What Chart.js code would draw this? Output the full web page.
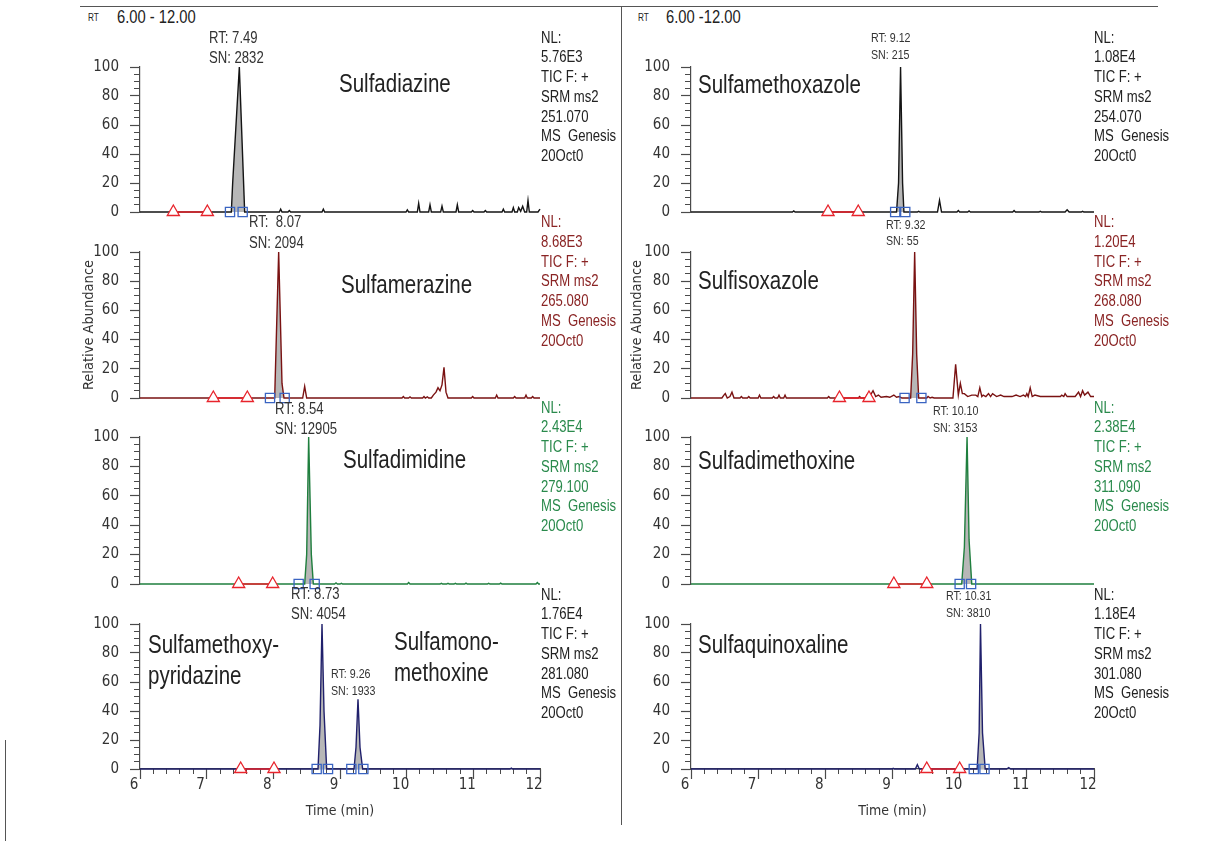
<!DOCTYPE html>
<html>
<head>
<meta charset="utf-8">
<title>SRM chromatograms of sulfonamides</title>
<script src="https://cdn.jsdelivr.net/npm/chart.js@4.4.1/dist/chart.umd.min.js"></script>
<style>
  html, body { margin: 0; padding: 0; background: #fff; }
  body {
    width: 1224px; height: 841px; position: relative; overflow: hidden;
    font-family: 'Liberation Sans', Arial, sans-serif;
    color: #222;
  }
  canvas { position: absolute; }
  /* Arial metrics squeezed to a narrow face, like the instrument font */
  .txt { position: absolute; white-space: pre; transform: scaleX(0.82); transform-origin: 0 0; }
  .rule { position: absolute; background: #555; }
</style>
</head>
<body>
<div class="rule" style="left:80px;top:6px;width:1078px;height:1px"></div>
<div class="rule" style="left:621px;top:6px;width:1px;height:819px"></div>
<div class="rule" style="left:5px;top:740px;width:1px;height:101px"></div>
<script>
'use strict';

// axis ticks shared by every trace
const timeTicks = [6, 7, 8, 9, 10, 11, 12];
const abundTicks = [0, 20, 40, 60, 80, 100];

// Sulfadiazine, SRM 251.070
const sdzTime = [6.00, 7.37, 7.39, 7.49, 7.57, 8.09, 8.11, 8.13, 8.22, 8.24, 8.26, 8.73, 8.75, 8.77,
  9.99, 10.01, 10.03, 10.16, 10.18, 10.20, 10.33, 10.35, 10.37, 10.51, 10.53, 10.55, 10.74, 10.76, 10.78,
  10.97, 10.99, 11.01, 11.16, 11.18, 11.20, 11.43, 11.45, 11.47, 11.58, 11.60, 11.62, 11.66, 11.68, 11.71,
  11.74, 11.77, 11.80, 11.82, 11.84, 11.97, 12.00];
const sdzAbund = [0, 0, 20, 100, 0, 0, 2, 0, 0, 1, 0, 0, 2, 0,
  0, 1.5, 0, 0, 6, 0, 0, 5, 0, 0, 4, 0, 0, 5, 0,
  0, 1, 0, 0, 1, 0, 0, 2, 0, 0, 3, 0, 0, 3, 0.5,
  4, 0, 0, 8, 0, 0, 2];
const sdzPeak = [[7.37, 7.57]];
const sdzNoise = [6.50, 7.01];
const sdzBounds = [7.35, 7.54];

// Sulfamerazine, SRM 265.080
const smrTime = [6.00, 8.02, 8.08, 8.13, 8.16, 8.44, 8.47, 8.50, 9.93, 9.95, 9.97, 10.03, 10.05, 10.07,
  10.24, 10.26, 10.28, 10.31, 10.33, 10.37, 10.40, 10.44, 10.47, 10.50, 10.53, 10.56, 10.59, 10.62,
  10.97, 10.99, 11.01, 11.33, 11.35, 11.37, 11.60, 11.62, 11.64, 11.77, 11.79, 11.81, 11.87, 11.89, 11.91, 12.00];
const smrAbund = [0, 0, 100, 10, 0, 0, 8, 0, 0, 1, 0, 0, 0.8, 0,
  0, 1, 0, 0.8, 0, 0, 2, 4, 7, 5, 9, 21, 4, 0,
  0, 1, 0, 0, 2, 0, 0, 1, 0, 0, 2, 0, 0, 1, 0, 0];
const smrPeak = [[8.02, 8.16]];
const smrNoise = [7.10, 7.61];
const smrBounds = [7.95, 8.17];

// Sulfadimidine, SRM 279.100
const sddTime = [6.00, 8.47, 8.50, 8.53, 8.57, 8.60, 8.92, 8.94, 8.96, 9.00, 9.02, 9.04, 10.01, 10.03, 10.05,
  10.50, 10.52, 10.54, 10.60, 10.62, 10.64, 10.71, 10.73, 10.75, 10.87, 10.89, 10.91, 11.21, 11.23, 11.25,
  11.39, 11.41, 11.43, 11.94, 11.96, 11.98, 12.00];
const sddAbund = [0, 0, 20, 100, 20, 0, 0, 0.8, 0, 0, 0.5, 0, 0, 1, 0,
  0, 0.5, 0, 0, 0.5, 0, 0, 0.5, 0, 0, 0.6, 0, 0, 0.5, 0,
  0, 0.6, 0, 0, 1, 0, 0];
const sddPeak = [[8.47, 8.60]];
const sddNoise = [7.48, 7.99];
const sddBounds = [8.38, 8.62];

// Sulfamethoxypyridazine + Sulfamonomethoxine, SRM 281.080
const smpTime = [6.00, 8.67, 8.70, 8.73, 8.76, 8.80, 9.21, 9.24, 9.27, 9.30, 9.34, 11.55, 11.57, 11.59, 12.00];
const smpAbund = [0, 0, 30, 100, 40, 0, 0, 15, 48, 15, 0, 0, 0.6, 0, 0];
const smpPeak = [[8.67, 8.80], [9.21, 9.34]];
const smpNoise = [7.51, 8.01];
const smpBounds = [8.65, 8.82, 9.17, 9.35];

// Sulfamethoxazole, SRM 254.070
const smxTime = [6.00, 7.51, 7.53, 7.55, 8.52, 8.54, 8.56, 9.06, 9.09, 9.12, 9.15, 9.17, 9.37, 9.39, 9.41,
  9.67, 9.70, 9.73, 9.96, 9.98, 10.00, 10.12, 10.14, 10.16, 10.79, 10.81, 10.83, 11.18, 11.20, 11.22,
  11.57, 11.60, 11.63, 11.81, 11.83, 11.85, 12.00];
const smxAbund = [0, 0, 0.7, 0, 0, 0.5, 0, 0, 20, 100, 20, 0, 0, 0.5, 0,
  0, 8, 0, 0, 1, 0, 0, 0.7, 0, 0, 1, 0, 0, 0.5, 0,
  0, 1.5, 0, 0, 0.5, 0, 0];
const smxPeak = [[9.06, 9.17]];
const smxNoise = [8.04, 8.49];
const smxBounds = [9.04, 9.19];

// Sulfisoxazole, SRM 268.080
const sisTime = [6.00, 6.46, 6.49, 6.51, 6.54, 6.58, 6.61, 6.64, 6.73, 6.75, 6.77, 6.84, 6.86, 6.88,
  7.00, 7.02, 7.04, 7.21, 7.23, 7.25, 7.29, 7.31, 7.33, 7.38, 7.40, 7.42, 8.03, 8.05, 8.07,
  8.18, 8.20, 8.22, 8.49, 8.51, 8.53, 8.60, 8.62, 8.66, 8.71, 8.75, 8.79, 8.83, 8.91, 8.96,
  9.02, 9.06, 9.10, 9.14, 9.27, 9.30, 9.33, 9.36, 9.39, 9.51, 9.53, 9.56, 9.59, 9.62,
  9.90, 9.94, 9.98, 10.01, 10.04, 10.07, 10.12, 10.18, 10.24, 10.27, 10.30, 10.33, 10.35, 10.39,
  10.43, 10.46, 10.49, 10.55, 10.61, 10.66, 10.72, 10.78, 10.84, 10.90, 10.95, 10.98, 11.00, 11.02,
  11.05, 11.08, 11.12, 11.20, 11.29, 11.40, 11.50, 11.52, 11.55, 11.57, 11.60, 11.66, 11.72, 11.77,
  11.80, 11.83, 11.86, 11.91, 11.95, 11.98, 12.00];
const sisAbund = [0, 0, 2, 3, 0, 1, 4, 0, 0, 1, 0, 0, 1, 0,
  0, 2, 0, 0, 1, 0, 0, 2, 0, 0, 2, 0, 0, 1, 0,
  0, 2, 0, 0, 1, 0, 0, 2, 1, 5, 1, 2, 0.5, 1, 0.5,
  2, 0.5, 1, 0, 0, 30, 100, 30, 0, 0, 1, 0, 0.5, 0,
  0, 23, 2, 10, 3, 3, 1, 2, 2, 1, 7, 1, 2, 1,
  3, 1, 3, 1, 2, 1, 1, 1, 2, 1, 2, 1, 3, 1,
  7, 1, 2, 1, 1, 1, 1, 2, 1, 3, 1, 1, 1, 4,
  1, 5, 2, 4, 1, 1, 1];
const sisPeak = [[9.27, 9.39]];
const sisNoise = [8.21, 8.65];
const sisBounds = [9.18, 9.43];

// Sulfadimethoxine, SRM 311.090
const sdmTime = [6.00, 10.03, 10.07, 10.11, 10.14, 10.18, 12.00];
const sdmAbund = [0, 0, 25, 100, 30, 0, 0];
const sdmPeak = [[10.03, 10.18]];
const sdmNoise = [9.02, 9.51];
const sdmBounds = [10.00, 10.17];

// Sulfaquinoxaline, SRM 301.080
const sqxTime = [6.00, 8.99, 9.01, 9.03, 9.34, 9.37, 9.40, 10.26, 10.29, 10.31, 10.34, 10.38, 10.70, 10.73, 10.76, 12.00];
const sqxAbund = [0, 0, 0.5, 0, 0, 3, 0, 0, 25, 100, 25, 0, 0, 1, 0, 0];
const sqxPeak = [[10.26, 10.38]];
const sqxNoise = [9.51, 10.00];
const sqxBounds = [10.21, 10.37];

// header text for each trace, left column top to bottom then right column
const normLevels = ['5.76E3', '8.68E3', '2.43E4', '1.76E4', '1.08E4', '1.20E4', '2.38E4', '1.18E4'];
const srmMasses = ['251.070', '265.080', '279.100', '281.080', '254.070', '268.080', '311.090', '301.080'];
const compoundNames = ['Sulfadiazine', 'Sulfamerazine', 'Sulfadimidine', 'Sulfamethoxy-\npyridazine',
  'Sulfamethoxazole', 'Sulfisoxazole', 'Sulfadimethoxine', 'Sulfaquinoxaline'];
const peakRT = ['7.49', ' 8.07', '8.54', '8.73', '9.26', '9.12', '9.32', '10.10', '10.31'];
const peakSN = ['2832', '2094', '12905', '4054', '1933', '215', '55', '3153', '3810'];

const AXIS = '#4a4a4a';
const TICK_TEXT = '#333';

Chart.defaults.font.family = "'DejaVu Sans Condensed', 'Liberation Sans', sans-serif";
Chart.defaults.font.size = 15;

const colX = [140, 691];
const colW = [400, 403];
const rowY = [67, 252, 437, 624];
const rowH = [145, 146, 147, 145];

const panels = [
  { col: 0, row: 0, time: sdzTime, abund: sdzAbund, peaks: sdzPeak, noise: sdzNoise, bounds: sdzBounds, color: '#141414' },
  { col: 0, row: 1, time: smrTime, abund: smrAbund, peaks: smrPeak, noise: smrNoise, bounds: smrBounds, color: '#7a1212' },
  { col: 0, row: 2, time: sddTime, abund: sddAbund, peaks: sddPeak, noise: sddNoise, bounds: sddBounds, color: '#1f7f3e' },
  { col: 0, row: 3, time: smpTime, abund: smpAbund, peaks: smpPeak, noise: smpNoise, bounds: smpBounds, color: '#20206c' },
  { col: 1, row: 0, time: smxTime, abund: smxAbund, peaks: smxPeak, noise: smxNoise, bounds: smxBounds, color: '#141414' },
  { col: 1, row: 1, time: sisTime, abund: sisAbund, peaks: sisPeak, noise: sisNoise, bounds: sisBounds, color: '#7a1212' },
  { col: 1, row: 2, time: sdmTime, abund: sdmAbund, peaks: sdmPeak, noise: sdmNoise, bounds: sdmBounds, color: '#1f7f3e' },
  { col: 1, row: 3, time: sqxTime, abund: sqxAbund, peaks: sqxPeak, noise: sqxNoise, bounds: sqxBounds, color: '#20206c' }
];

// fix a scale's box size and drop the label overhang it asks the layout for
function pinBox(s, size) {
  if (s.isHorizontal()) s.height = size; else s.width = size;
  s.paddingTop = s.paddingBottom = s.paddingLeft = s.paddingRight = 0;
}

/**
 * Draw one chromatogram trace on its own canvas
 * @param {object} p - panel description from `panels`
 */
function drawPanel(p) {
  const L = 62, T = 12, R = 12;
  const bottomAxis = p.row === 3;
  const B = bottomAxis ? 52 : 10;
  const w = colW[p.col], h = rowH[p.row];

  const cv = document.createElement('canvas');
  cv.width = L + w + R;
  cv.height = T + h + B;
  cv.style.left = (colX[p.col] - L) + 'px';
  cv.style.top = (rowY[p.row] - T) + 'px';
  document.body.appendChild(cv);

  const trace = p.time.map((t, i) => ({ x: t, y: p.abund[i] }));
  const datasets = [];

  // grey integrated area under each detected peak
  p.peaks.forEach(win => {
    datasets.push({
      data: trace.filter(pt => pt.x >= win[0] && pt.x <= win[1]),
      fill: 'origin',
      backgroundColor: '#b7b7b7',
      borderWidth: 0,
      pointRadius: 0,
      order: 3,
      clip: false
    });
  });
  datasets.push({
    data: trace,
    borderColor: p.color,
    borderWidth: 1.4,
    pointRadius: 0,
    fill: false,
    order: 2,
    clip: false
  });
  // noise window (triangles) and peak start/end (squares)
  datasets.push({
    data: p.noise.map(t => ({ x: t, y: 0 })),
    borderColor: '#e8242c',
    borderWidth: 1.6,
    pointStyle: 'triangle',
    pointRadius: 7,
    pointBorderColor: '#e8242c',
    pointBackgroundColor: '#fff',
    pointBorderWidth: 1.3,
    order: 1,
    clip: false
  });
  datasets.push({
    data: p.bounds.map(t => ({ x: t, y: 0 })),
    showLine: false,
    pointStyle: 'rect',
    pointRadius: 6.5,
    pointBorderColor: '#3a64c2',
    pointBackgroundColor: 'rgba(255,255,255,0)',
    pointBorderWidth: 1.3,
    order: 0,
    clip: false
  });

  new Chart(cv.getContext('2d'), {
    type: 'line',
    data: { datasets },
    options: {
      responsive: false,
      animation: false,
      events: [],
      layout: { padding: { top: T, right: R, bottom: bottomAxis ? 0 : B, left: 0 }, autoPadding: false },
      plugins: { legend: { display: false }, tooltip: { enabled: false } },
      scales: {
        x: {
          type: 'linear', min: 6, max: 12, weight: 10,
          display: bottomAxis,
          afterBuildTicks: s => { s.ticks = timeTicks.map(v => ({ value: v })); },
          afterFit: s => pinBox(s, bottomAxis ? B : 0),
          grid: { drawOnChartArea: false, tickLength: 10, color: AXIS, tickWidth: 1.2 },
          border: { color: AXIS, width: 1.2 },
          ticks: { color: TICK_TEXT, padding: -3, labelOffset: -6, maxRotation: 0 },
          title: { display: true, text: 'Time (min)', color: TICK_TEXT, font: { size: 14 }, padding: { top: 0, bottom: 1 } }
        },
        xMinor: {
          type: 'linear', axis: 'x', position: 'bottom', min: 6, max: 12, weight: 0,
          display: bottomAxis,
          afterFit: s => pinBox(s, 0),
          ticks: { display: false, stepSize: 0.2 },
          grid: { drawOnChartArea: false, tickLength: 5, color: AXIS },
          border: { display: false }
        },
        y: {
          type: 'linear', position: 'left', min: 0, max: 100, weight: 10,
          afterBuildTicks: s => { s.ticks = abundTicks.map(v => ({ value: v })); },
          afterFit: s => pinBox(s, L),
          grid: { drawOnChartArea: false, tickLength: 10, color: AXIS, tickWidth: 1.2 },
          border: { color: AXIS, width: 1.2 },
          ticks: { color: TICK_TEXT, padding: 11 },
          title: {
            display: p.row === 1,
            text: 'Relative Abundance',
            color: TICK_TEXT,
            font: { size: 14.5 },
            padding: { top: p.col === 0 ? 3 : 0, bottom: 0 }
          }
        },
        yMinor: {
          type: 'linear', axis: 'y', position: 'left', min: 0, max: 100, weight: 0,
          afterFit: s => pinBox(s, 0),
          ticks: { display: false, stepSize: 5 },
          grid: { drawOnChartArea: false, tickLength: 6, color: AXIS },
          border: { display: false }
        }
      }
    }
  });
}

function addText(x, top, text, size, lineHeight, color) {
  const d = document.createElement('div');
  d.className = 'txt';
  d.style.left = x + 'px';
  d.style.top = top + 'px';
  d.style.fontSize = size + 'px';
  d.style.lineHeight = lineHeight + 'px';
  d.style.color = color || '#222';
  d.textContent = text;
  document.body.appendChild(d);
}

panels.forEach(drawPanel);

// retention window header
addText(87.5, 13, 'RT', 10, 10);
addText(116.6, 7.5, '6.00 - 12.00', 18, 18);
addText(637.7, 13, 'RT', 10, 10);
addText(666, 7.5, '6.00 -12.00', 18, 18);

// NL / scan filter blocks
const nlColors = ['#222', '#8a2424', '#2a8a4c', '#222'];
const nlTop = [27.5, 212, 397.5, 584.5];
panels.forEach((p, i) => {
  const x = p.col === 0 ? 541 : 1094;
  const block = ['NL:', normLevels[i], 'TIC F: +', 'SRM ms2', srmMasses[i], 'MS  Genesis', '20Oct0'].join('\n');
  addText(x, nlTop[p.row], block, 16, 19.8, nlColors[p.row]);
});

// compound names
const nameSpots = [[339, 70.5], [341, 271.5], [343, 447], [148, 629], [697.5, 71.5], [697.5, 268], [697.5, 448], [697.5, 632]];
compoundNames.forEach((n, i) => {
  const lines = n.split('\n').length;
  addText(nameSpots[i][0], nameSpots[i][1], n, 25, lines > 1 ? 31 : 25);
});
addText(394, 625.5, 'Sulfamono-\nmethoxine', 25, 31);

// peak apex labels: [x, top, size, line height]
const peakSpots = [
  [209.4, 27.7, 16, 20], [248.6, 212, 16, 20.8], [275, 399.2, 16, 20], [291, 584.2, 16, 20],
  [331, 664.7, 13, 17], [871, 30.4, 13, 16.6], [886, 216.7, 13, 16.5], [933, 401.7, 13, 17.7], [946, 586.7, 13, 17.7]
];
peakSpots.forEach((s, i) => {
  addText(s[0], s[1], 'RT: ' + peakRT[i] + '\nSN: ' + peakSN[i], s[2], s[3], '#333');
});
</script>
</body>
</html>
